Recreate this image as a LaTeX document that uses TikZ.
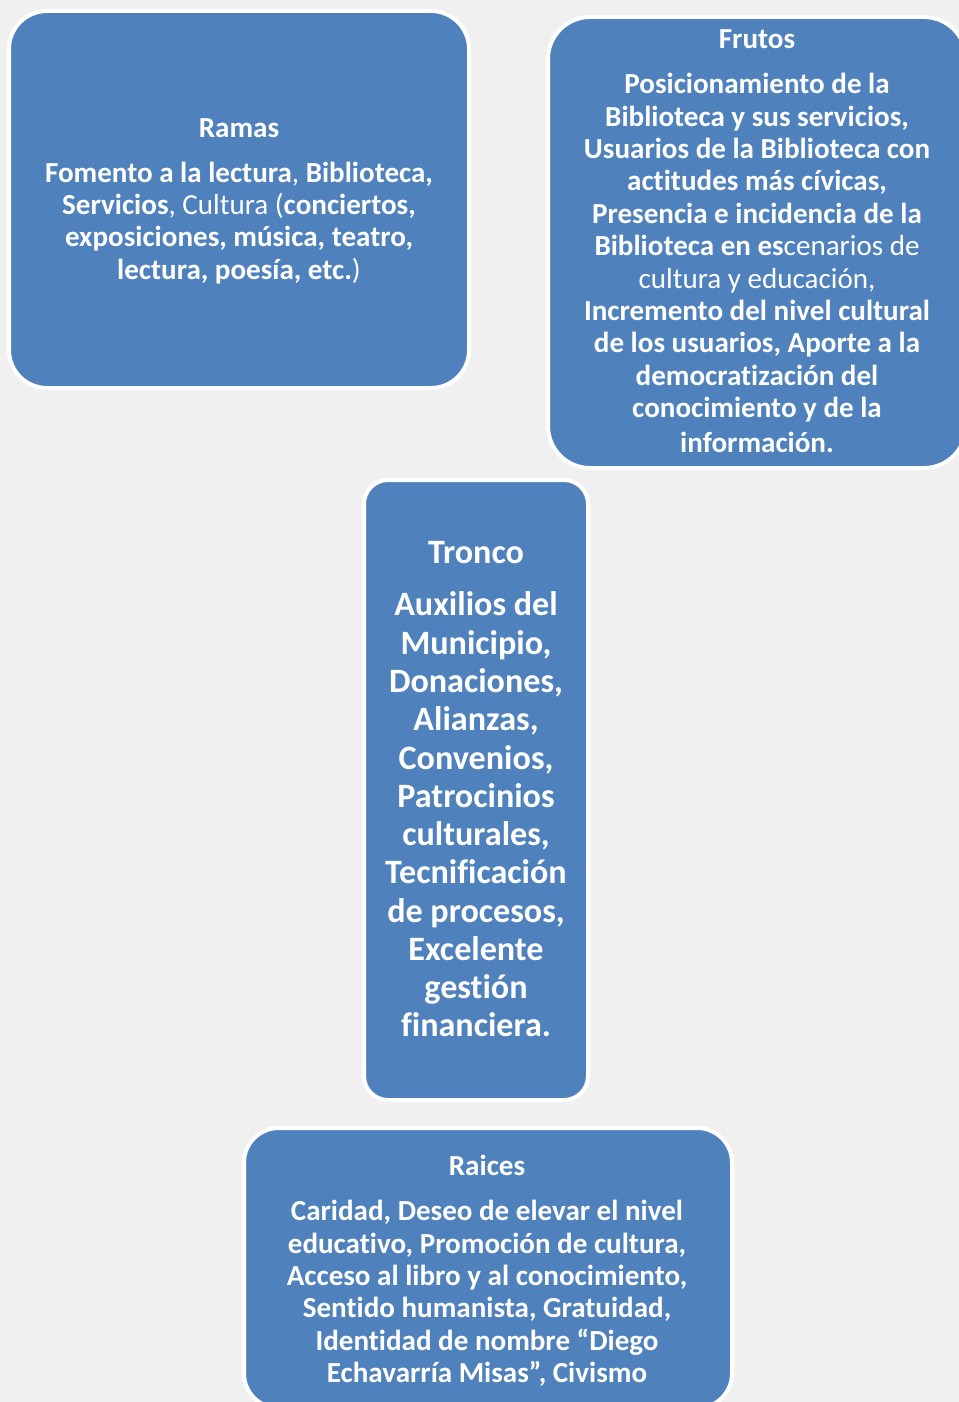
\documentclass[tikz,border=0pt]{standalone}
\usepackage{fontspec}
\setmainfont{Carlito}[Ligatures=NoCommon]
\definecolor{bgcol}{HTML}{F0F0F0}
\definecolor{boxblue}{HTML}{4F81BD}
\newcommand{\rg}[1]{{\mdseries #1}}
\begin{document}
\begin{tikzpicture}[x=0.75pt,y=-0.75pt,
  panel/.style={draw=white, line width=3pt, fill=boxblue, inner sep=0pt},
  txt/.style={text=white, align=center, inner sep=0pt, font=\fontsize{21.8}{24.3}\selectfont\bfseries},
  bigtxt/.style={text=white, align=center, inner sep=0pt, font=\fontsize{25.6}{28.7}\selectfont\bfseries}]
\path[fill=bgcol] (0,0) rectangle (959,1402);
\useasboundingbox (0,0) rectangle (959,1402);
\clip (0,0) rectangle (959,1402);
% boxes
\node[panel, rounded corners=28.5pt, minimum width=345pt, minimum height=282.75pt] (ramasbox) at (239,199.5) {};
\node[panel, rounded corners=31.5pt, minimum width=313.5pt, minimum height=338.25pt] (frutosbox) at (757,242.5) {};
\node[panel, rounded corners=18pt, minimum width=168pt, minimum height=465pt] (troncobox) at (476,790) {};
\node[panel, rounded corners=26pt, minimum width=366pt, minimum height=210pt] (raicesbox) at (488,1268) {};
% texts
\node[txt] (ramastxt) at (239,201) {Ramas\\[9.5pt]
Fomento a la lectura\rg{,} Biblioteca,\\
Servicios\rg{, Cultura (}conciertos,\\
exposiciones, música, teatro,\\
lectura, poesía, etc.\rg{)}};
\node[txt] (frutostxt) at (757,241.3) {Frutos\\[9.5pt]
Posicionamiento de la\\
Biblioteca y sus servicios,\\
Usuarios de la Biblioteca con\\
actitudes más cívicas,\\
Presencia e incidencia de la\\
Biblioteca en es\rg{cenarios de}\\
\rg{cultura y educación,}\\
Incremento del nivel cultural\\
de los usuarios, Aporte a la\\
democratización del\\
conocimiento y de la\\[2pt]
información.};
\node[bigtxt] (troncotxt) at (476,789) {Tronco\\[11pt]
Auxilios del\\
Municipio,\\
Donaciones,\\
Alianzas,\\
Convenios,\\
Patrocinios\\
culturales,\\
Tecnificación\\
de procesos,\\
Excelente\\
gestión\\
financiera.};
\node[txt] (raicestxt) at (487,1271) {Raices\\[9.5pt]
Caridad, Deseo de elevar el nivel\\
educativo, Promoción de cultura,\\
Acceso al libro y al conocimiento,\\
Sentido humanista, Gratuidad,\\
Identidad de nombre “Diego\\
Echavarría Misas”, Civismo};
\end{tikzpicture}
\end{document}
